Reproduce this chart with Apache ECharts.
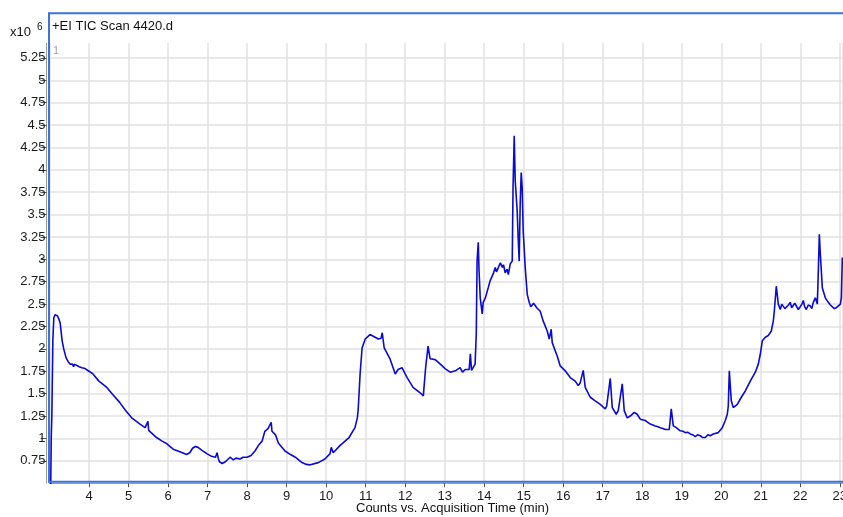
<!DOCTYPE html>
<html>
<head>
<meta charset="utf-8">
<script src="https://cdn.jsdelivr.net/npm/echarts@6/dist/echarts.min.js"></script>
<style>
html,body{margin:0;padding:0;background:#fff;}
#chart{width:843px;height:517px;}
</style>
</head>
<body>
<div id="chart"></div>
<script>
// Acquisition time (min)
var times = [
3.03,3.045,3.06,3.085,3.11,3.14,3.17,3.20,3.24,3.27,3.32,3.36,3.42,3.47,3.52,3.55,3.58,3.61,3.63,3.67,3.75,3.82,3.90,4.00,
4.10,4.25,4.45,4.60,4.78,4.93,5.08,5.20,5.29,5.42,5.47,5.49,5.51,5.55,5.71,5.85,5.97,6.13,6.30,6.47,6.55,6.62,6.69,6.76,6.85,6.98,
7.10,7.20,7.24,7.27,7.30,7.37,7.45,7.57,7.65,7.72,7.82,7.90,7.95,8.00,8.10,8.20,8.30,8.38,8.45,8.53,8.58,8.61,8.63,8.72,8.79,8.96,
9.10,9.22,9.39,9.50,9.60,9.80,9.97,10.10,10.13,10.18,10.35,10.58,10.73,10.79,10.81,10.86,10.91,10.99,11.11,11.24,11.32,11.39,11.42,11.47,
11.62,11.75,11.82,11.92,12.05,12.20,12.38,12.46,12.52,12.58,12.63,12.76,12.89,13.01,13.14,13.27,13.39,13.45,13.52,13.62,13.65,13.68,13.72,13.77,
13.80,13.82,13.85,13.87,13.90,13.95,13.975,14.03,14.10,14.15,14.23,14.28,14.31,14.35,14.41,14.46,14.49,14.53,14.58,14.61,14.66,14.71,14.73,14.76,14.785,
14.835,14.86,14.886,14.911,14.937,14.962,14.987,15.038,15.089,15.139,15.18,15.215,15.25,15.291,15.33,15.367,15.418,15.494,15.595,15.646,15.696,15.722,15.797,
15.848,15.924,16.051,16.177,16.304,16.380,16.430,16.506,16.557,16.684,16.810,16.937,17.063,17.10,17.139,17.190,17.241,17.342,17.392,17.494,17.544,
17.620,17.696,17.797,17.873,17.949,18.076,18.14,18.203,18.27,18.329,18.40,18.456,18.52,18.582,18.684,18.734,18.785,18.861,18.962,19.03,19.089,19.15,19.215,19.28,19.342,19.40,19.468,19.53,19.595,
19.66,19.722,19.797,19.924,20.025,20.101,20.152,20.177,20.203,20.253,20.304,20.405,20.506,20.608,20.734,20.861,20.937,20.987,21.038,21.114,21.190,
21.266,21.316,21.342,21.392,21.443,21.494,21.53,21.570,21.61,21.646,21.70,21.747,21.78,21.823,21.86,21.899,21.95,22.000,22.04,22.076,22.11,22.152,22.20,22.253,22.29,22.329,22.380,22.430,22.456,22.481,
22.506,22.557,22.633,22.709,22.76,22.810,22.86,22.911,22.96,23.013,23.038,23.063
];
// Counts (x10^6)
var counts = [
0.45,1.03,1.26,2.10,2.35,2.38,2.36,2.37,2.33,2.29,2.09,2.00,1.90,1.86,1.83,1.81,1.83,1.80,1.83,1.81,1.80,1.79,1.78,1.75,
1.72,1.64,1.57,1.49,1.40,1.31,1.23,1.19,1.16,1.12,1.11,1.19,1.09,1.07,1.01,0.97,0.94,0.88,0.85,0.82,0.84,0.89,0.91,0.90,0.87,0.83,
0.80,0.79,0.84,0.78,0.74,0.72,0.74,0.79,0.76,0.78,0.77,0.79,0.78,0.79,0.81,0.86,0.93,0.97,1.08,1.11,1.10,1.18,1.08,1.04,0.95,0.86,
0.82,0.79,0.73,0.71,0.705,0.73,0.77,0.83,0.90,0.84,0.92,1.01,1.12,1.23,1.31,1.72,2.01,2.11,2.16,2.13,2.11,2.12,2.18,2.01,
1.885,1.72,1.77,1.79,1.68,1.57,1.51,1.475,1.80,2.03,1.89,1.88,1.83,1.78,1.74,1.755,1.79,1.74,1.77,1.77,1.945,1.76,1.755,1.83,
2.17,2.98,3.19,2.87,2.57,2.39,2.52,2.57,2.68,2.76,2.84,2.91,2.86,2.85,2.96,2.91,2.94,2.85,2.89,2.83,2.95,2.98,3.80,4.38,3.88,
3.54,3.24,2.98,3.62,3.97,3.80,3.32,2.91,2.61,2.52,2.47,2.48,2.51,2.50,2.46,2.48,2.42,2.31,2.20,2.11,2.22,2.07,1.98,
1.92,1.81,1.755,1.68,1.64,1.59,1.62,1.76,1.57,1.46,1.42,1.38,1.33,1.36,1.375,1.67,1.345,1.27,1.31,1.61,1.31,
1.23,1.25,1.29,1.27,1.215,1.20,1.18,1.16,1.15,1.14,1.13,1.12,1.11,1.10,1.10,1.33,1.14,1.12,1.085,1.08,1.065,1.07,1.05,1.04,1.02,1.04,1.03,1.01,1.01,
1.04,1.03,1.05,1.065,1.12,1.20,1.27,1.36,1.755,1.42,1.345,1.38,1.46,1.53,1.64,1.74,1.83,1.94,2.09,2.13,2.15,
2.20,2.31,2.42,2.70,2.50,2.44,2.50,2.48,2.45,2.43,2.49,2.52,2.46,2.44,2.51,2.50,2.44,2.455,2.50,2.54,2.47,2.44,2.49,2.48,2.45,2.52,2.57,2.50,2.87,3.28,
3.06,2.68,2.57,2.52,2.49,2.48,2.45,2.46,2.48,2.50,2.57,3.02
];
var titleText = '+EI TIC Scan 4420.d';
var xAxisTitle = 'Counts vs. Acquisition Time (min)';
var yScaleText = 'x10';
var yScaleExp = '6';
var panelLabel = '1';

var data = times.map(function (t, i) { return [t, counts[i]]; });

var chart = echarts.init(document.getElementById('chart'), null, {renderer: 'canvas'});
var font = 'Liberation Sans, Arial, sans-serif';
chart.setOption({
  animation: false,
  backgroundColor: '#ffffff',
  grid: {left: 49.5, right: 0, top: 35.5, bottom: 33.8, containLabel: false, outerBoundsMode: 'none'},
  xAxis: {
    type: 'value', min: 3, max: 23.08, interval: 1,
    axisLine: {show: true, lineStyle: {color: '#9a9a9a', width: 1}},
    axisTick: {show: true, length: 4, lineStyle: {color: '#555'}},
    axisLabel: {show: true, margin: 7, fontSize: 13, color: '#1a1a1a', fontFamily: font, showMinLabel: false},
    splitLine: {show: true, lineStyle: {color: '#e2e2e2', width: 1.5}}
  },
  yAxis: {
    type: 'value', min: 0.5, max: 5.5, interval: 0.25, offset: 3,
    axisLine: {show: true, lineStyle: {color: '#9a9a9a', width: 1}},
    axisTick: {show: true, length: 6, lineStyle: {color: '#555'}},
    axisLabel: {show: true, margin: 1, fontSize: 13, color: '#1a1a1a', fontFamily: font, showMinLabel: false, showMaxLabel: false},
    splitLine: {show: true, lineStyle: {color: '#e2e2e2', width: 1.5}}
  },
  series: [{
    type: 'line', data: data, showSymbol: false, symbol: 'none',
    lineStyle: {color: '#0a0ad0', width: 1.6}, z: 3
  }],
  graphic: [
    {type: 'rect', z: 50, shape: {x: 0, y: 0, width: 843, height: 43}, style: {fill: '#ffffff'}},
    {type: 'rect', z: 60, shape: {x: 49, y: 13.2, width: 800, height: 468.5}, style: {fill: 'none', stroke: '#3d72d9', lineWidth: 2}},
    {type: 'text', z: 70, left: 52, top: 20, style: {text: titleText, font: '13px ' + font, fill: '#111'}},
    {type: 'text', z: 70, left: 10, top: 26, style: {text: yScaleText, font: '13px ' + font, fill: '#111'}},
    {type: 'text', z: 70, left: 37, top: 22, style: {text: yScaleExp, font: '10px ' + font, fill: '#111'}},
    {type: 'text', z: 70, left: 53, top: 45, style: {text: panelLabel, font: '11px ' + font, fill: '#a0a0a0'}},
    {type: 'text', z: 70, left: 356, top: 502, style: {text: xAxisTitle, font: '13px ' + font, fill: '#111'}}
  ]
});
</script>
</body>
</html>
